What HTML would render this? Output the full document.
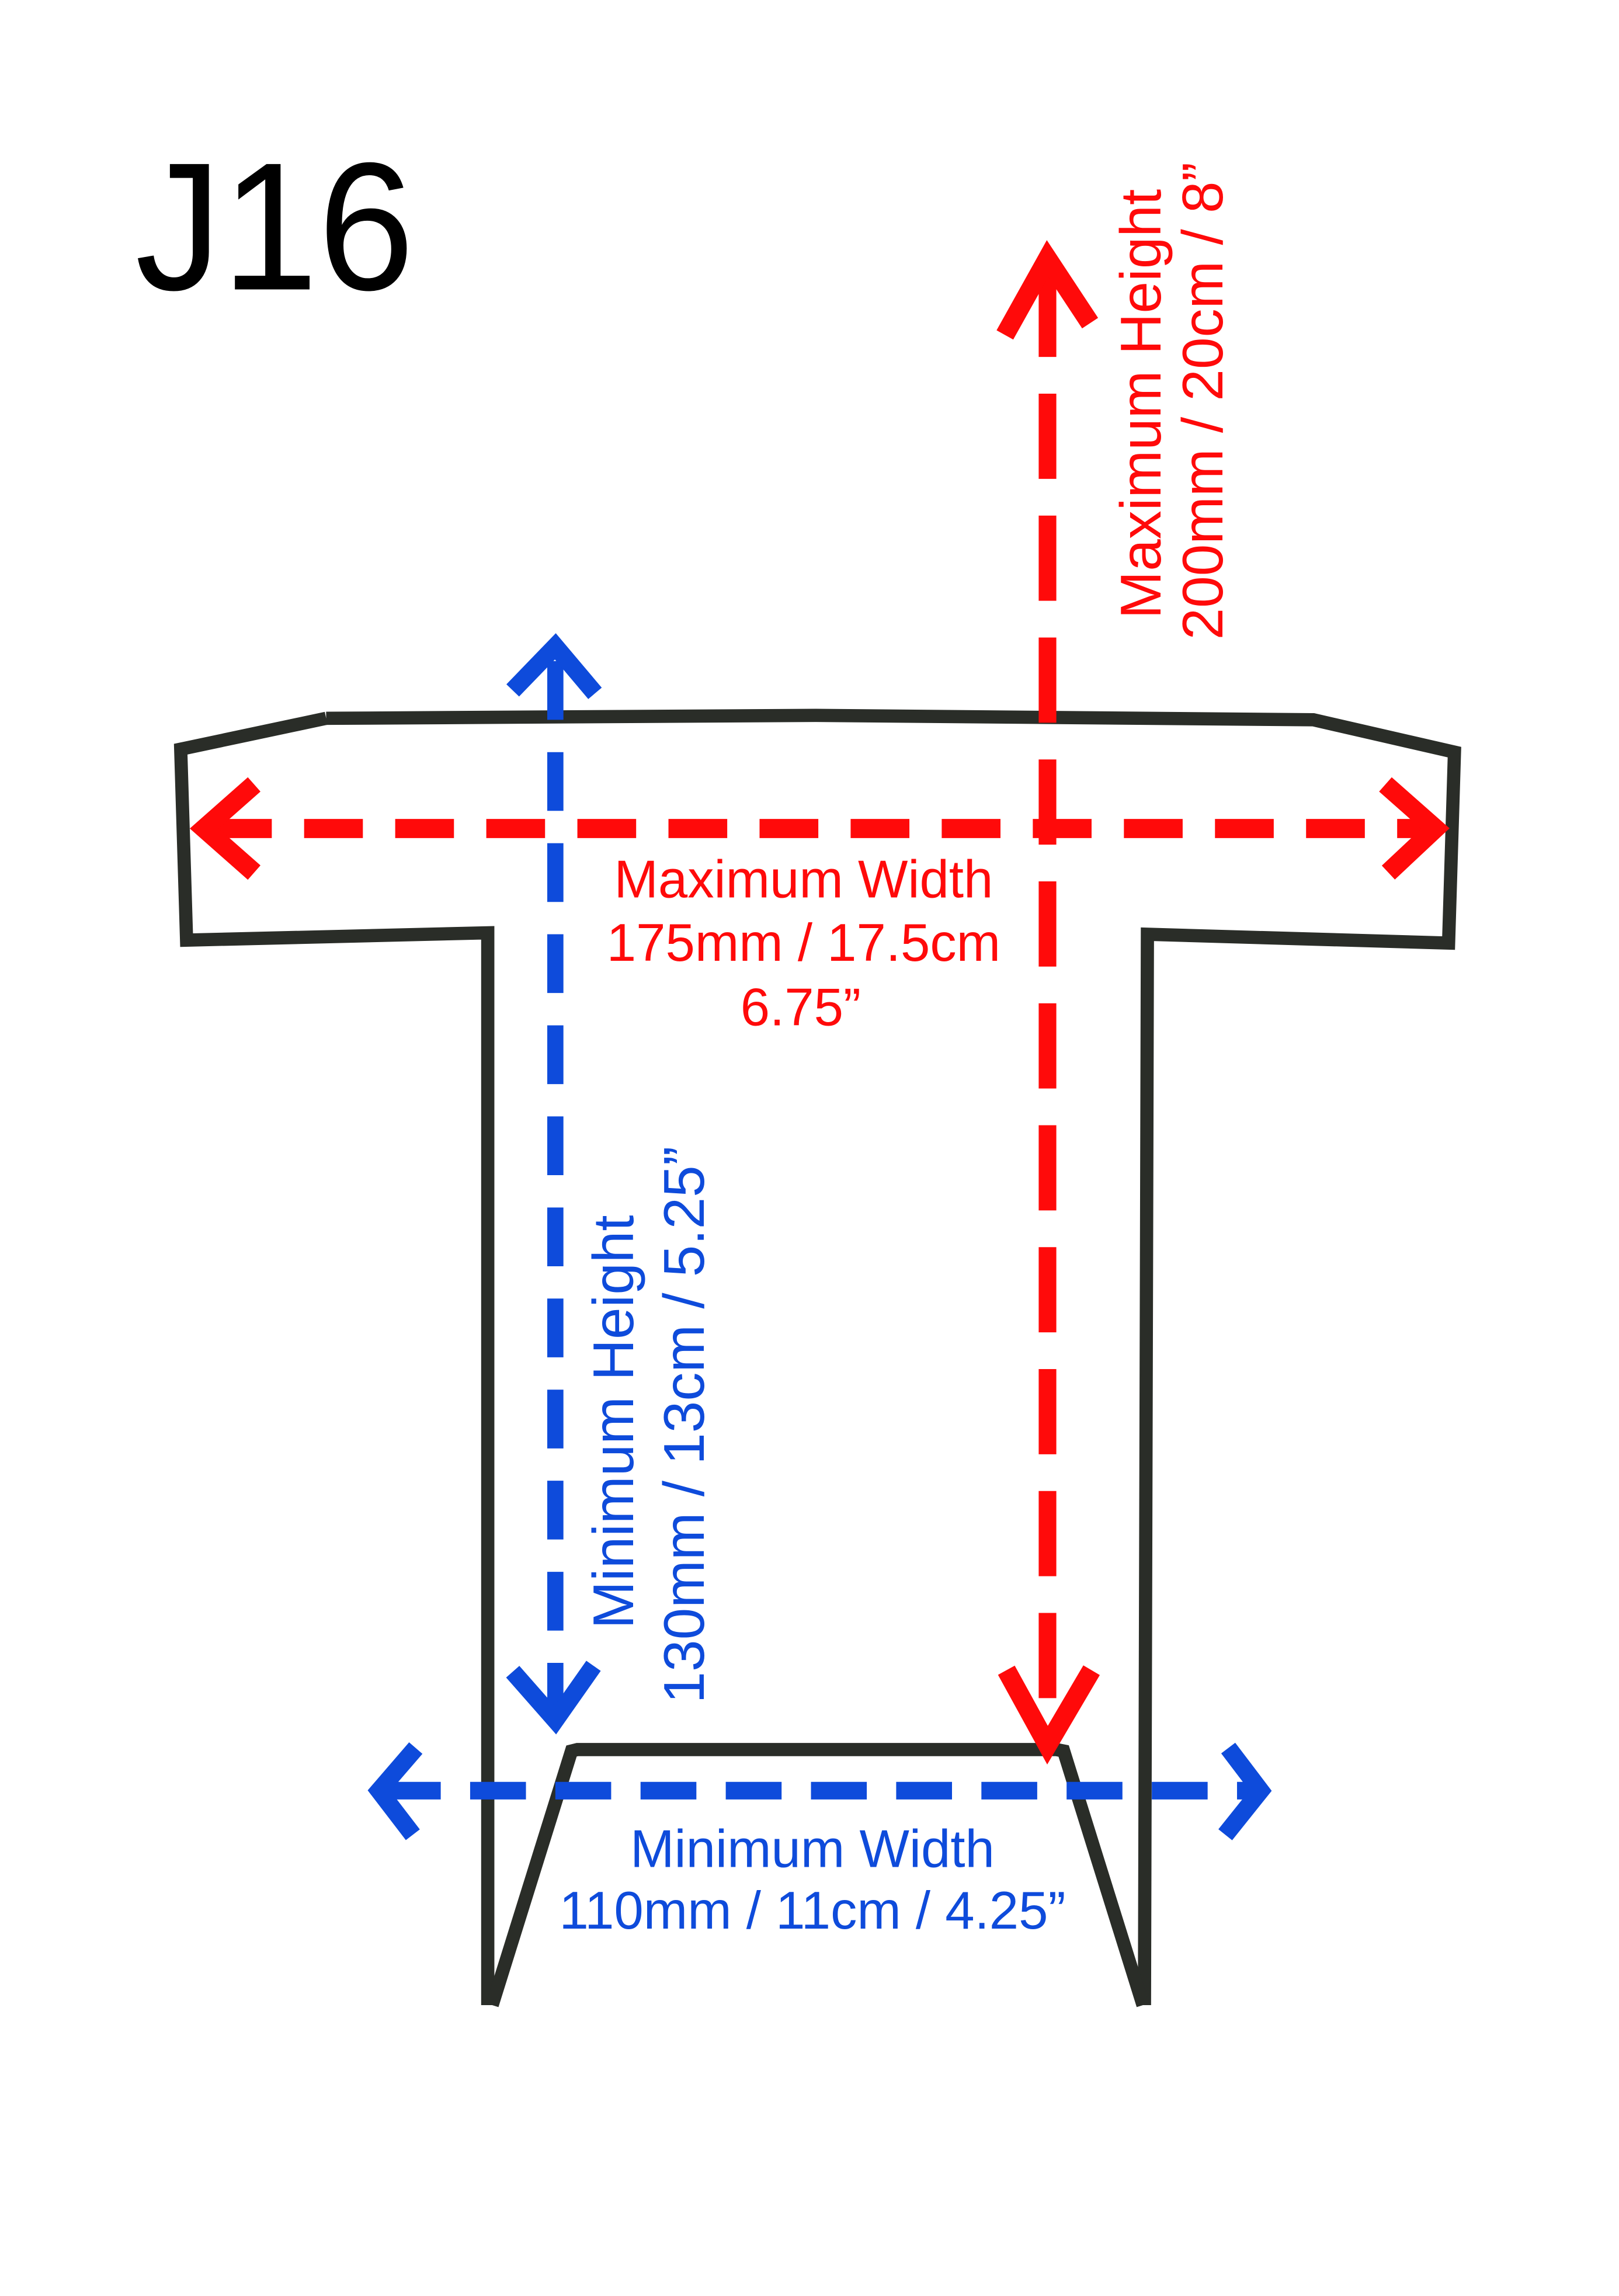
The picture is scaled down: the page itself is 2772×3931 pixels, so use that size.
<!DOCTYPE html>
<html><head><meta charset="utf-8"><style>
html,body{margin:0;padding:0;background:#fff}
svg{display:block}
text{font-family:"Liberation Sans",Arial,sans-serif}
</style></head><body>
<svg width="2772" height="3931" viewBox="0 0 1102 1563" preserveAspectRatio="none" xmlns="http://www.w3.org/2000/svg">
<rect width="1102" height="1563" fill="#fff"/>
<text x="92" y="197" font-size="124" fill="#000" textLength="190" lengthAdjust="spacingAndGlyphs">J16</text>
<g fill="none" stroke="#2a2d28" stroke-width="9" stroke-linejoin="miter" stroke-linecap="butt">
<path d="M222,489 L555,487 L894,490 L990,512 L986,642 L781,636 L779,1365"/>
<path d="M222,489 L123,510 L127,640 L332,635 L332,1365"/>
<path d="M335,1365 L389,1192 L393,1191 L719,1191 L724,1192 L778,1365"/>
</g>
<g stroke="#ff0a0a" fill="none">
<line x1="713" y1="185" x2="713" y2="1185" stroke-width="12" stroke-dasharray="58,25"/>
<polyline points="684,228 713,176 742,220" stroke-width="13"/>
<polyline points="685,1137 713,1188 743,1137" stroke-width="13"/>
<line x1="145" y1="564" x2="975" y2="564" stroke-width="13" stroke-dasharray="40,22"/>
<polyline points="173,534 139,564 173,594" stroke-width="13"/>
<polyline points="943,534 977,564 945,594" stroke-width="13"/>
</g>
<g stroke="#0e4bdb" fill="none">
<line x1="378" y1="450" x2="378" y2="1168" stroke-width="11" stroke-dasharray="40,22"/>
<polyline points="349,470 378,440 405,472" stroke-width="12"/>
<polyline points="349,1138 378,1171 404,1134" stroke-width="12"/>
<line x1="262" y1="1219" x2="856" y2="1219" stroke-width="12" stroke-dasharray="38,20"/>
<polyline points="283,1190 258,1219 281,1249" stroke-width="12"/>
<polyline points="836,1190 858,1219 834,1249" stroke-width="12"/>
</g>
<g fill="#ff0a0a" font-size="36" text-anchor="middle">
<text x="547" y="611">Maximum Width</text>
<text x="547" y="654">175mm / 17.5cm</text>
<text x="545" y="698">6.75”</text>
</g>
<g fill="#ff0a0a" font-size="39" text-anchor="middle">
<text transform="translate(790,275) rotate(-90)">Maximum Height</text>
<text transform="translate(832,273) rotate(-90)">200mm / 20cm / 8”</text>
</g>
<g fill="#0e4bdb" font-size="36" text-anchor="middle">
<text x="553" y="1271">Minimum Width</text>
<text x="553" y="1313">110mm / 11cm / 4.25”</text>
</g>
<g fill="#0e4bdb" font-size="39" text-anchor="middle">
<text transform="translate(431,968) rotate(-90)">Minimum Height</text>
<text transform="translate(479,970) rotate(-90)">130mm / 13cm / 5.25”</text>
</g>
</svg>
</body></html>
